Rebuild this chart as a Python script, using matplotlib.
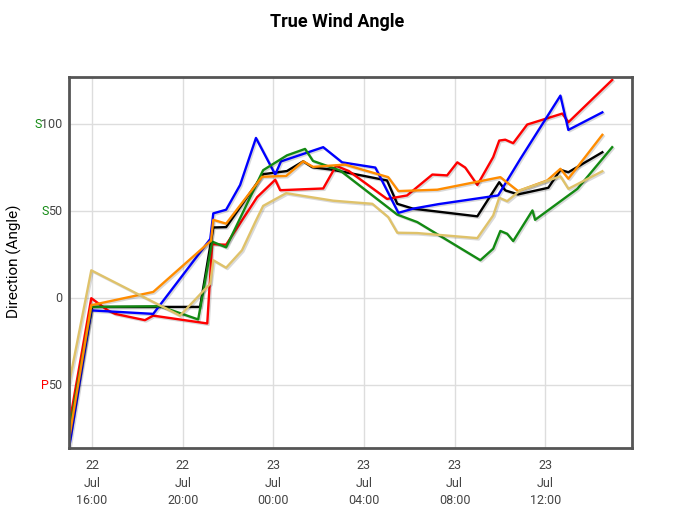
import pandas as pd
import matplotlib
matplotlib.use("Agg")
import matplotlib.pyplot as plt
import matplotlib.dates as mdates
import matplotlib.patheffects as pe

plt.rcParams['font.family'] = ['Roboto', 'DejaVu Sans']

# readings, 22 Jul afternoon -> 23 Jul afternoon (HH:MM, before 15:00 means 23 Jul)
red_t = ["15:00", "15:58", "16:42", "17:01", "18:20", "18:42", "21:05", "21:18", "21:55",
         "23:17", "00:05", "00:18", "02:12", "02:46", "03:20", "05:01", "05:54", "07:01",
         "07:40", "08:07", "08:28", "09:00", "09:42", "09:58", "10:14", "10:35", "11:12",
         "12:45", "13:01", "14:57"]
red_v = [-72, 0, -7, -9, -12.6, -10, -14.5, 31, 30.7, 58, 68, 62, 63, 76, 73, 57, 59, 71,
         70.5, 78, 75, 65, 81, 90.5, 91, 89, 99.7, 106, 101, 125.3]

blue_t = ["15:00", "15:58", "18:42", "21:13", "21:21", "21:55", "22:32", "23:14", "00:05",
          "00:20", "02:12", "03:02", "04:30", "05:31", "06:10", "07:17", "09:55", "10:54",
          "12:40", "13:01", "14:31"]
blue_v = [-85, -7, -9, 34, 48.7, 50.8, 65, 92, 71, 78.5, 86.7, 78, 75, 49, 51.4, 54, 59, 80,
          116.3, 96.6, 106.7]

green_t = ["15:00", "15:58", "19:00", "20:41", "21:18", "21:55", "23:33", "00:36", "01:24",
           "01:45", "02:57", "05:28", "06:21", "09:08", "09:42", "10:01", "10:19", "10:35",
           "11:26", "11:33", "13:25", "14:57"]
green_v = [-76, -5, -4.6, -12.2, 32.5, 29.2, 73.5, 82, 85.7, 78.8, 73.3, 48, 43.7, 21.8, 28.4,
           38.6, 37, 32.8, 50.4, 45, 62.8, 86.7]

black_t = ["15:00", "16:00", "20:46", "21:21", "21:55", "23:33", "00:36", "01:19", "01:43",
           "02:38", "05:01", "05:28", "06:10", "09:00", "09:58", "10:14", "10:48", "12:08",
           "12:40", "13:01", "14:31"]
black_v = [-78, -5, -5, 40.6, 40.8, 71.2, 73, 78.6, 75.2, 73.7, 67.6, 54.2, 51.4, 47, 66.6,
           61.9, 59.6, 63.4, 73.7, 72.3, 83.8]

orange_t = ["15:00", "15:58", "18:42", "21:15", "21:21", "21:55", "23:30", "00:34", "01:19",
            "01:45", "03:10", "05:04", "05:31", "07:14", "10:01", "10:48", "12:05", "12:40",
            "13:01", "14:31"]
orange_v = [-80, -4, 3.6, 33, 45, 42.8, 69.7, 70.2, 78.6, 75.4, 76.7, 69.5, 61.5, 62.3, 69.5,
            61.5, 67.6, 74.3, 68.6, 93.8]

yellow_t = ["15:00", "15:58", "19:53", "21:13", "21:21", "21:55", "22:37", "23:12", "23:33",
            "00:34", "02:38", "03:23", "04:22", "05:04", "05:28", "06:21", "09:00", "09:42",
            "09:58", "10:19", "10:54", "12:08", "12:40", "13:01", "14:31"]
yellow_v = [-48, 16, -10, 8.4, 21.8, 17.5, 27.5, 43.7, 53, 60.3, 56, 55.2, 54.2, 46.6, 37.6,
            37.4, 34.5, 47.5, 57.7, 55.7, 62, 67.6, 70, 62.8, 72.9]

ytick_vals = [-50, 0, 50, 100]
ytick_pre = ["P", "", "S", "S"]
ytick_num = ["50", "0", "50", "100"]


def to_dt(hhmm):
    t = pd.Timestamp("2023-07-22 " + hhmm)
    if t.hour < 15:
        t += pd.Timedelta(days=1)
    return t


series = [
    (black_t, black_v, "#000000"),
    (red_t, red_v, "#ff0000"),
    (blue_t, blue_v, "#0000ff"),
    (green_t, green_v, "#138a13"),
    (orange_t, orange_v, "#ff8c00"),
    (yellow_t, yellow_v, "#dfc26a"),
]

fig = plt.figure(figsize=(6.97, 5.23), dpi=100)
ax = fig.add_axes([0.099, 0.1434, 0.808, 0.7094])

shadow = [pe.SimpleLineShadow(offset=(1, -1), alpha=0.15), pe.Normal()]
for ts, vs, col in series:
    ax.plot([to_dt(s) for s in ts], vs, color=col, lw=1.7, path_effects=shadow)

ax.set_xlim(pd.Timestamp("2023-07-22 14:59"), pd.Timestamp("2023-07-23 15:50"))
ax.set_ylim(-86, 127)

ax.xaxis.set_major_locator(mdates.HourLocator(byhour=[0, 4, 8, 12, 16, 20]))
ax.xaxis.set_major_formatter(mdates.DateFormatter("%d\n%b\n%H:%M"))
ax.tick_params(axis="x", length=0, pad=8, labelsize=9, labelcolor="#444444")
for lab in ax.get_xticklabels():
    lab.set_linespacing(1.45)

ax.set_yticks(ytick_vals)
ax.set_yticklabels([])
ax.tick_params(axis="y", length=0)
for v, pre, num, in zip(ytick_vals, ytick_pre, ytick_num):
    t = ax.text(-0.012, v, num, transform=ax.get_yaxis_transform(), ha="right",
                va="center", fontsize=9, color="#444444")
    if pre:
        ax.annotate(pre, xy=(0, 0.5), xycoords=t, xytext=(0.8, 0), textcoords="offset points",
                    ha="right", va="center", fontsize=9,
                    color="#ff0000" if pre == "P" else "#138a13")

ax.grid(True, color="#dddddd", lw=1)
ax.set_axisbelow(True)
for sp in ax.spines.values():
    sp.set_color("#555555")
    sp.set_linewidth(2)

fig.text(0.02, 0.5, "Direction (Angle)", rotation=90, ha="center", va="center", fontsize=11)
fig.text(0.483, 0.957, "True Wind Angle", ha="center", va="center", fontsize=13,
         fontweight="bold")

fig.savefig("out.png", dpi=100)
